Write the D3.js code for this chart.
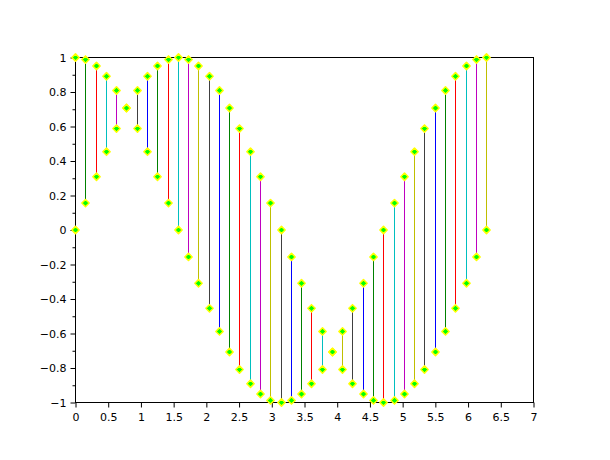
<!DOCTYPE html>
<html><head><meta charset="utf-8">
<script src="https://cdn.jsdelivr.net/npm/d3@7"></script>
<style>body{margin:0;background:#fff}svg{display:block}text{font-family:"DejaVu Sans",sans-serif;font-size:11px;fill:#000}</style>
</head><body><svg id="c" width="610" height="460"></svg>
<script>
const xs = [0,0.157,0.314,0.471,0.628,0.785,0.942,1.100,1.257,1.414,1.571,1.728,1.885,2.042,2.199,2.356,2.513,2.670,2.827,2.985,3.142,3.299,3.456,3.613,3.770,3.927,4.084,4.241,4.398,4.555,4.712,4.869,5.027,5.184,5.341,5.498,5.655,5.812,5.969,6.126,6.283];
const ySin = [0,0.156,0.309,0.454,0.588,0.707,0.809,0.891,0.951,0.988,1,0.988,0.951,0.891,0.809,0.707,0.588,0.454,0.309,0.156,0,-0.156,-0.309,-0.454,-0.588,-0.707,-0.809,-0.891,-0.951,-0.988,-1,-0.988,-0.951,-0.891,-0.809,-0.707,-0.588,-0.454,-0.309,-0.156,0];
const yCos = [1,0.988,0.951,0.891,0.809,0.707,0.588,0.454,0.309,0.156,0,-0.156,-0.309,-0.454,-0.588,-0.707,-0.809,-0.891,-0.951,-0.988,-1,-0.988,-0.951,-0.891,-0.809,-0.707,-0.588,-0.454,-0.309,-0.156,0,0.156,0.309,0.454,0.588,0.707,0.809,0.891,0.951,0.988,1];
const segColors = ["#0000ff","#008000","#ff0000","#00bfbf","#bf00bf","#bfbf00","#404040"];
const xTicks = [0,0.5,1,1.5,2,2.5,3,3.5,4,4.5,5,5.5,6,6.5,7];
const yTicks = [-1,-0.8,-0.6,-0.4,-0.2,0,0.2,0.4,0.6,0.8,1];
const yMinor = [-0.9,-0.7,-0.5,-0.3,-0.1,0.1,0.3,0.5,0.7,0.9];

const L=75.5,R=533.5,T=57.5,B=402.5;
const svg = d3.select("#c");
const x = d3.scaleLinear().domain([0,7]).range([L,R]);
const y = d3.scaleLinear().domain([-1,1]).range([B,T]);
const px = v => Math.floor(x(v))+0.5;

// segments
const idx = d3.range(xs.length);
svg.append("g").selectAll("line").data(idx).join("line")
  .attr("x1",i=>px(xs[i])).attr("x2",i=>px(xs[i]))
  .attr("y1",i=>y(ySin[i])).attr("y2",i=>y(yCos[i]))
  .attr("stroke",i=>segColors[i%segColors.length]).attr("stroke-width",1);

// frame
svg.append("rect").attr("x",L).attr("y",T).attr("width",R-L).attr("height",B-T)
  .attr("fill","none").attr("stroke","#000").attr("stroke-width",1);

// axes
svg.append("g").attr("transform",`translate(0,${B})`)
  .call(d3.axisBottom(x).tickValues(xTicks).tickSize(5).tickPadding(6).tickFormat(d3.format("")));
svg.append("g").attr("transform",`translate(${L},0)`)
  .call(d3.axisLeft(y).tickValues(yTicks).tickSize(5).tickPadding(4).tickFormat(d3.format("")));
svg.append("g").attr("transform",`translate(${L},0)`)
  .call(d3.axisLeft(y).tickValues(yMinor).tickSize(3).tickFormat(""));
svg.selectAll(".domain").remove();
svg.selectAll(".tick line").attr("stroke","#000");
svg.selectAll(".tick text").attr("font-family","DejaVu Sans").attr("font-size",11).attr("fill","#000");

// markers
const pts = [];
idx.forEach(i=>{pts.push([xs[i],ySin[i]]);pts.push([xs[i],yCos[i]]);});
const sym = d3.symbol().type(d3.symbolDiamond2).size(34);
svg.append("g").selectAll("path").data(pts).join("path")
  .attr("transform",d=>`translate(${px(d[0])},${y(d[1])})`)
  .attr("d",sym).attr("fill","#00ff00").attr("stroke","#ffff00").attr("stroke-width",1.5)
  .attr("stroke-linejoin","round");
</script></body></html>
